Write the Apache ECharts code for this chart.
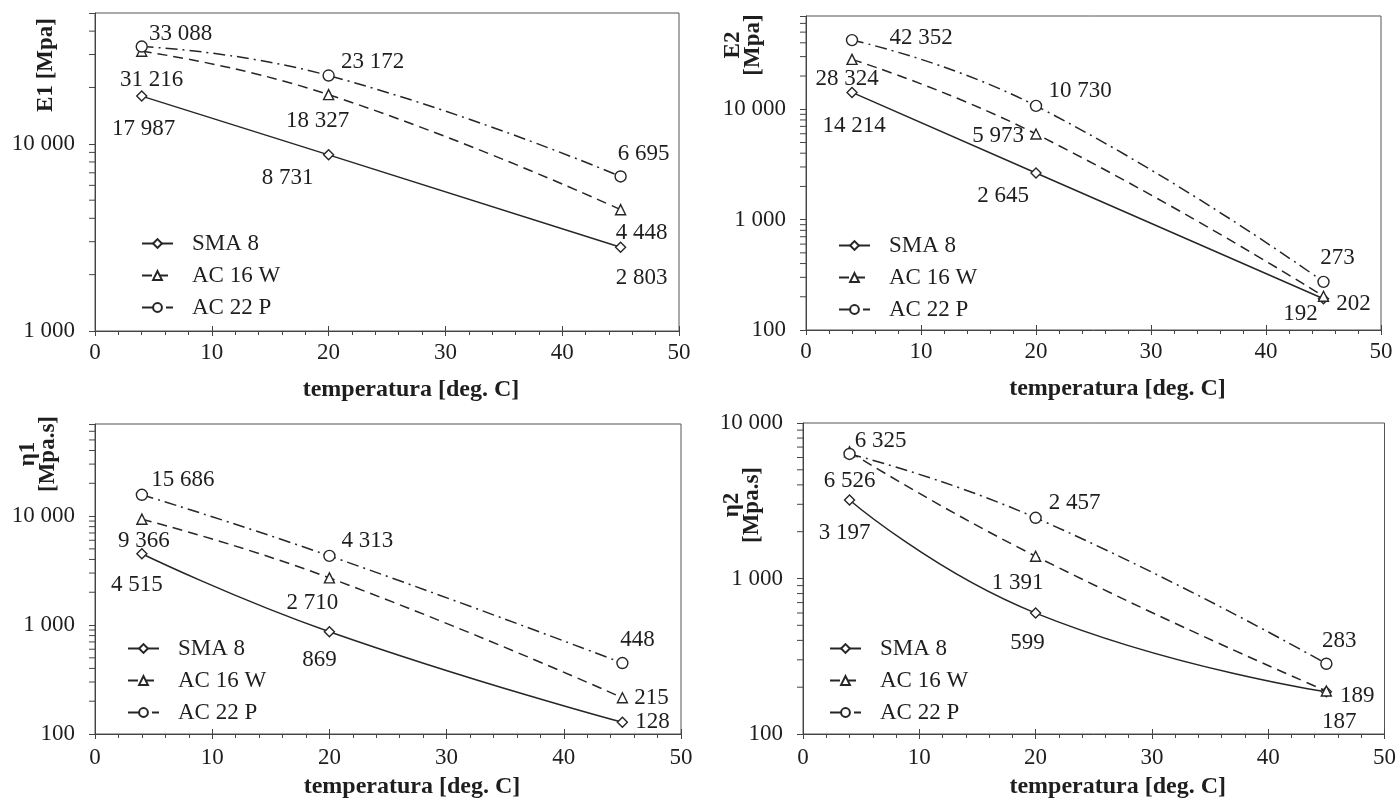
<!DOCTYPE html>
<html>
<head>
<meta charset="utf-8">
<script src="https://cdn.jsdelivr.net/npm/echarts@6/dist/echarts.min.js"></script>
<style>
html,body{margin:0;padding:0;background:#fff;}
#chart{width:1399px;height:803px;}
</style>
</head>
<body>
<div id="chart"></div>
<script>
// ---- data ----
const temps = [4, 20, 45];
const seriesNames = ['SMA 8', 'AC 16 W', 'AC 22 P'];

const e1_sma8 = [17987, 8731, 2803];
const e1_ac16w = [31216, 18327, 4448];
const e1_ac22p = [33088, 23172, 6695];

const e2_sma8 = [14214, 2645, 192];
const e2_ac16w = [28324, 5973, 202];
const e2_ac22p = [42352, 10730, 273];

const eta1_sma8 = [4515, 869, 128];
const eta1_ac16w = [9366, 2710, 215];
const eta1_ac22p = [15686, 4313, 448];

const eta2_sma8 = [3197, 599, 187];
const eta2_ac16w = [6526, 1391, 189];
const eta2_ac22p = [6325, 2457, 283];

const yTitles = ['E1 [Mpa]', 'E2\n[Mpa]', 'η1\n[Mpa.s]', 'η2\n[Mpa.s]'];
const xTitle = 'temperatura [deg. C]';
const yRanges = [[1000, 50000], [100, 70000], [100, 70000], [100, 10000]];
const xRange = [0, 50];
const xInterval = 10;

// ---- styles / layout ----
const FONT = '"Liberation Serif", "Times New Roman", serif';
const FS = 23;
const TXT = '#1e1e1e';
const LINE = '#262626';
const grids = [
  {left: 95, top: 13, width: 584, height: 318},
  {left: 806, top: 16, width: 575, height: 314},
  {left: 95, top: 424, width: 586, height: 310},
  {left: 803, top: 423, width: 582, height: 311}
];
const yTitlePos = [[46, 65], [743, 45], [38, 454], [742, 505]];
const legendPos = [[141, 232], [838, 234], [127, 637], [829, 637]];
const xNameGap = [47, 47, 41, 41];
const xLabelMargin = [10, 10, 12, 12];

const labelOffsets = [
  [[[2, 33], [-41, 23], [21, 31]], [[10, 29], [-11, 26], [21, 23]], [[39, -13], [44, -14], [23, -22]]],
  [[[2, 34], [-33, 23], [-23, 15]], [[-5, 20], [-38, 2], [30, 8]], [[69, -2], [44, -15], [14, -24]]],
  [[[-5, 31], [-10, 28], [30, 0]], [[2, 22], [-17, 25], [29, 0]], [[41, -15], [38, -15], [15, -23]]],
  [[[-5, 33], [-8, 30], [13, 30]], [[0, 29], [-18, 27], [31, 5]], [[31, -13], [39, -15], [13, -23]]]
];

const panels = [
  [e1_sma8, e1_ac16w, e1_ac22p],
  [e2_sma8, e2_ac16w, e2_ac22p],
  [eta1_sma8, eta1_ac16w, eta1_ac22p],
  [eta2_sma8, eta2_ac16w, eta2_ac22p]
];

const symbols = ['diamond', 'triangle', 'circle'];
const symbolSizes = [10, 10, 11];
const lineTypes = ['solid', [10, 6], [12, 5, 2, 5]];

function fmt(v) {
  return String(Math.round(v)).replace(/\B(?=(\d{3})+(?!\d))/g, ' ');
}
function minorTicks(range) {
  const out = [];
  for (let d = Math.pow(10, Math.floor(Math.log10(range[0]))); d < range[1]; d *= 10) {
    for (let m = 2; m <= 9; m++) {
      const v = m * d;
      if (v > range[0] && v < range[1]) out.push(v);
    }
  }
  return out;
}

const option = {
  animation: false,
  backgroundColor: '#fff',
  textStyle: {fontFamily: FONT, color: TXT},
  grid: grids.map(g => Object.assign({show: true, borderColor: '#555', borderWidth: 1, backgroundColor: 'transparent'}, g)),
  xAxis: [],
  yAxis: [],
  legend: [],
  series: [],
  graphic: []
};

for (let i = 0; i < 4; i++) {
  option.xAxis.push({
    type: 'value', gridIndex: i, min: xRange[0], max: xRange[1], interval: xInterval,
    position: 'bottom',
    name: xTitle, nameLocation: 'middle', nameGap: xNameGap[i],
    nameTextStyle: {fontFamily: FONT, fontWeight: 'bold', fontSize: 24, color: TXT, padding: [0, 0, 0, 48]},
    axisLine: {show: true, onZero: false, lineStyle: {color: '#444', width: 1}},
    axisTick: {show: true, length: 5, lineStyle: {color: '#444'}},
    minorTick: {show: true, splitNumber: 5, length: 4, lineStyle: {color: '#444'}},
    axisLabel: {fontFamily: FONT, fontSize: FS, color: TXT, margin: xLabelMargin[i]},
    splitLine: {show: false}
  });
}
for (let i = 0; i < 4; i++) {
  option.xAxis.push({
    type: 'value', gridIndex: i, min: xRange[0], max: xRange[1], interval: xInterval,
    position: 'bottom',
    axisLine: {show: false},
    axisTick: {show: true, inside: true, length: 5, lineStyle: {color: '#444'}},
    axisLabel: {show: false},
    splitLine: {show: false}
  });
}
for (let i = 0; i < 4; i++) {
  option.yAxis.push({
    type: 'log', logBase: 10, gridIndex: i, min: yRanges[i][0], max: yRanges[i][1],
    axisLine: {show: true, lineStyle: {color: '#444', width: 1}},
    axisTick: {show: true, length: 6, lineStyle: {color: '#444'}},
    axisLabel: {
      fontFamily: FONT, fontSize: FS, color: TXT, margin: 20,
      showMaxLabel: true,
      formatter: function (v) {
        const l = Math.log10(v);
        return Math.abs(l - Math.round(l)) < 1e-6 ? fmt(v) : '';
      }
    },
    splitLine: {show: false}
  });

  option.legend.push({
    orient: 'vertical', left: legendPos[i][0], top: legendPos[i][1],
    padding: 0, itemGap: 9, itemWidth: 31, itemHeight: 11,
    data: seriesNames,
    textStyle: {fontFamily: FONT, fontSize: FS, color: TXT, padding: [0, 0, 0, 14]},
    selectedMode: false
  });

  option.graphic.push({
    type: 'text', x: yTitlePos[i][0], y: yTitlePos[i][1], rotation: Math.PI / 2,
    style: {text: yTitles[i], fontFamily: FONT, fontWeight: 'bold', fontSize: 23, lineHeight: 20,
      fill: TXT, align: 'center', verticalAlign: 'middle'}
  });

  // minor y ticks (log scale 2..9 per decade), drawn via the axis' own scale
  option.series.push({
    type: 'custom', xAxisIndex: i, yAxisIndex: i, silent: true, clip: false,
    data: minorTicks(yRanges[i]).map(v => [xRange[0], v]),
    encode: {x: 0, y: 1},
    renderItem: function (params, api) {
      const p = api.coord([api.value(0), api.value(1)]);
      return {type: 'line', shape: {x1: p[0] - 6, y1: p[1], x2: p[0], y2: p[1]},
        style: {stroke: '#444', lineWidth: 1}};
    }
  });

  for (let s = 0; s < 3; s++) {
    const vals = panels[i][s];
    option.series.push({
      type: 'line', name: seriesNames[s], xAxisIndex: i, yAxisIndex: i,
      smooth: 0.5,
      symbol: symbols[s], symbolSize: symbolSizes[s],
      lineStyle: {color: LINE, width: 1.5, type: lineTypes[s]},
      itemStyle: {color: '#fff', borderColor: LINE, borderWidth: 1.4},
      label: {show: true, position: 'inside', fontFamily: FONT, fontSize: FS, color: TXT,
        formatter: p => fmt(p.value[1])},
      data: temps.map((t, j) => ({value: [t, vals[j]], label: {offset: labelOffsets[i][s][j]}})),
      z: 3 + s
    });
  }
}

const chart = echarts.init(document.getElementById('chart'), null, {renderer: 'canvas'});
chart.setOption(option);
</script>
</body>
</html>
